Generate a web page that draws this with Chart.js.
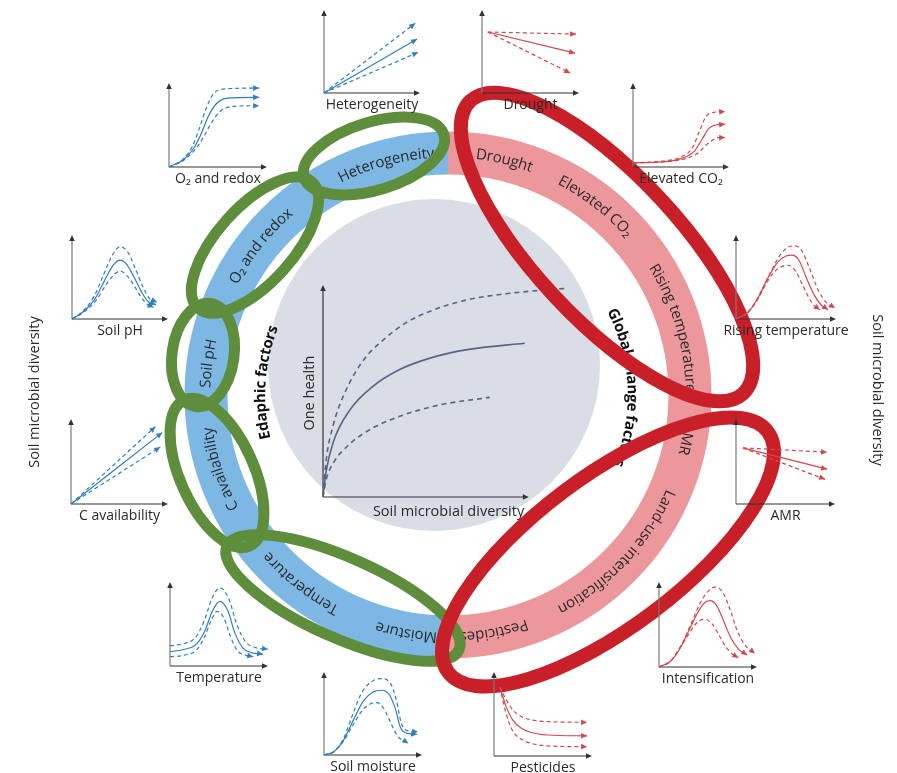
<!DOCTYPE html>
<html>
<head>
<meta charset="utf-8">
<script src="https://cdn.jsdelivr.net/npm/chart.js@4.4.1/dist/chart.umd.min.js"></script>
<style>
  html, body { margin: 0; padding: 0; background: #ffffff; }
  #stage { position: relative; width: 897px; height: 773px; overflow: hidden; }
  #stage canvas { position: absolute; }
  #main { left: 0; top: 0; z-index: 1; }
  .mini { z-index: 2; }
</style>
</head>
<body>
<div id="stage"><canvas id="main" width="897" height="773"></canvas></div>
<script>
// ---------- data ----------
// central panel: one health vs soil microbial diversity
const HEALTH_MID   = [[0,0],[0.15,1.2],[0.5,2.6],[1.3,4.1],[2.4,5.2],[3.7,6.0],[5.2,6.55],[7.0,6.95],[9.8,7.25]];
const HEALTH_UPPER = [[0,0],[0.15,1.7],[0.5,3.4],[1.1,5.0],[2.0,6.5],[2.8,7.3],[4.0,8.2],[5.3,8.8],[7.0,9.3],[9.0,9.6],[11.9,9.85]];
const HEALTH_LOWER = [[0,0],[0.15,0.8],[0.5,1.6],[1.3,2.5],[2.5,3.3],[4.0,3.9],[5.7,4.35],[8.1,4.7]];

// ring categories
const EDAPHIC_FACTORS = ['Heterogeneity', 'O₂ and redox', 'Soil pH', 'C availability', 'Temperature', 'Moisture'];
const GLOBAL_FACTORS  = ['Drought', 'Elevated CO₂', 'Rising temperature', 'AMR', 'Land-use intensification', 'Pesticides'];

// response curves (x, diversity) for each factor: upper, central, lower
const O2_UPPER = [[0,0],[1.5,1.0],[2.4,2.5],[3.1,4.6],[3.8,7.0],[4.6,8.8],[5.8,9.3],[9.2,9.4]];
const O2_MID   = [[0,0],[1.5,0.9],[2.5,2.2],[3.3,4.0],[4.0,6.0],[4.8,7.5],[6.0,8.2],[9.2,8.3]];
const O2_LOWER = [[0,0],[1.5,0.8],[2.6,2.0],[3.5,3.5],[4.3,5.2],[5.2,6.6],[6.4,7.2],[9.2,7.3]];

const HET_UPPER = [[0,0],[9.5,8.4]];
const HET_MID   = [[0,0],[9.7,6.5]];
const HET_LOWER = [[0,0],[9.8,4.9]];

const DROUGHT_UPPER = [[0.6,7.35],[9.7,7.1]];
const DROUGHT_MID   = [[0.6,7.35],[9.6,4.8]];
const DROUGHT_LOWER = [[0.6,7.35],[9.1,2.4]];

const CO2_UPPER = [[0,0.5],[3,0.7],[5,1.2],[6.2,2.3],[6.9,4.2],[7.6,6.0],[8.4,6.5],[9.6,6.6]];
const CO2_MID   = [[0,0.5],[3,0.6],[5,1.0],[6.4,1.9],[7.2,3.3],[7.9,4.6],[8.6,5.0],[9.6,5.1]];
const CO2_LOWER = [[0,0.5],[3,0.6],[5.5,1.0],[6.8,1.7],[7.6,2.6],[8.3,3.2],[8.9,3.5],[9.6,3.5]];

const PH_UPPER = [[0,0],[1.2,1.0],[2.3,2.7],[3.3,5.3],[4.2,7.6],[5.0,8.6],[5.8,8.0],[6.6,6.0],[7.4,3.8],[8.1,2.4],[8.85,2.0]];
const PH_MID   = [[0,0],[1.2,0.9],[2.4,2.4],[3.4,4.6],[4.3,6.4],[5.0,7.0],[5.7,6.5],[6.5,4.9],[7.3,3.1],[8.0,2.0],[8.75,1.7]];
const PH_LOWER = [[0,0],[1.2,0.8],[2.5,2.2],[3.5,4.0],[4.4,5.3],[5.0,5.7],[5.6,5.3],[6.4,4.1],[7.2,2.6],[7.9,1.7],[8.5,1.4]];

const RISE_UPPER = [[0,0],[1.2,0.8],[2.2,2.6],[3.3,5.2],[4.4,7.6],[5.3,8.6],[5.9,8.7],[6.6,8.1],[7.4,5.9],[8.2,3.5],[9.0,2.0],[9.9,1.3]];
const RISE_MID   = [[0,0],[1.2,0.8],[2.2,2.5],[3.2,4.9],[4.2,6.8],[5.0,7.5],[5.6,7.6],[6.3,7.0],[7.0,5.0],[7.8,2.9],[8.5,1.7],[9.2,1.1]];
const RISE_LOWER = [[0,0],[1.2,0.8],[2.2,2.4],[3.1,4.4],[4.0,5.8],[4.7,6.3],[5.2,6.4],[5.9,5.8],[6.6,4.2],[7.3,2.5],[7.9,1.5],[8.4,1.1]];

const CAV_UPPER = [[0,0],[8.7,9.1]];
const CAV_MID   = [[0,0],[9.4,8.4]];
const CAV_LOWER = [[0,0],[9.2,6.7]];

const AMR_UPPER = [[0.7,6.6],[9.2,6.1]];
const AMR_MID   = [[0.7,6.6],[9.2,4.1]];
const AMR_LOWER = [[0.7,6.6],[9.0,2.9]];

const TEMP_UPPER = [[0,2.4],[1.5,2.7],[2.6,3.4],[3.5,5.4],[4.3,8.1],[5.1,9.3],[6.0,8.0],[6.8,5.0],[7.7,2.9],[8.7,2.2],[10,2.0]];
const TEMP_MID   = [[0,1.7],[1.5,2.0],[2.7,2.6],[3.6,4.3],[4.3,6.5],[5.1,7.7],[5.9,6.6],[6.6,4.0],[7.4,2.2],[8.3,1.6],[9.5,1.4]];
const TEMP_LOWER = [[0,1.1],[1.5,1.3],[2.7,1.9],[3.5,3.4],[4.2,5.4],[4.8,6.5],[5.5,5.7],[6.2,3.4],[6.9,1.8],[7.7,1.3],[8.5,1.1]];

const INT_UPPER = [[0,0],[1.2,0.7],[2.2,2.4],[3.2,4.9],[4.2,7.5],[5.0,8.9],[5.7,9.4],[6.5,8.8],[7.3,6.6],[8.0,4.2],[8.9,2.4],[9.8,1.6]];
const INT_MID   = [[0,0],[1.2,0.7],[2.2,2.3],[3.1,4.4],[4.0,6.5],[4.6,7.5],[5.2,7.8],[5.9,7.2],[6.6,5.4],[7.3,3.5],[8.1,2.1],[9.0,1.4]];
const INT_LOWER = [[0,0],[1.2,0.7],[2.1,2.2],[3.0,3.8],[3.7,5.0],[4.2,5.5],[4.7,5.6],[5.4,5.1],[6.1,3.8],[6.8,2.4],[7.5,1.5],[8.1,1.1]];

const MOIST_UPPER = [[0,0],[1.0,0.4],[2.0,2.0],[2.9,4.8],[3.8,7.4],[4.8,8.8],[5.8,9.2],[6.8,8.6],[7.4,6.5],[7.9,3.8],[8.6,2.9],[9.6,2.8]];
const MOIST_MID   = [[0,0],[1.0,0.4],[2.0,1.8],[3.0,4.2],[4.0,6.5],[5.0,7.6],[5.9,7.8],[6.7,7.2],[7.3,5.5],[7.8,3.3],[8.5,2.6],[9.5,2.5]];
const MOIST_LOWER = [[0,0],[1.0,0.4],[2.0,1.7],[3.0,3.7],[4.0,5.5],[4.8,6.2],[5.4,6.3],[6.1,5.6],[6.8,3.9],[7.5,2.3],[8.6,1.4]];

const PEST_UPPER = [[0.6,8.2],[1.2,6.8],[1.9,5.5],[2.8,4.7],[3.8,4.3],[5.5,4.1],[9.5,4.0]];
const PEST_MID   = [[0.6,8.2],[1.2,6.0],[1.9,4.3],[2.8,3.3],[3.8,2.8],[5.5,2.5],[9.5,2.4]];
const PEST_LOWER = [[0.6,8.2],[1.2,5.2],[1.9,3.0],[2.8,2.0],[3.8,1.5],[5.5,1.2],[9.5,1.1]];

// ---------- styling & layout ----------
const FONT = '"Open Sans", "DejaVu Sans", sans-serif';
const BLUE = '#2f7fbf';
const RED = '#d2474f';
const INK = '#2a2a2a';
const HEALTH_INK = '#5a6482';

const RING = { cx: 448, cy: 395, r: 242, width: 43, blue: '#7db7e3', pink: '#eb979c' };
const CORE = { cx: 434, cy: 365, r: 166, fill: '#d9dde6' };
const EDAPHIC_ANGLES = [-105, -141.5, -172.5, 162, 128, 100];
const GLOBAL_ANGLES = [-76.5, -52, -16.5, 10.5, 43, 79];

const GREEN_RINGS = [
  { cx: 374, cy: 156, rx: 73, ry: 34, rot: -17 },
  { cx: 255, cy: 245, rx: 85, ry: 38, rot: -48 },
  { cx: 203, cy: 355, rx: 52, ry: 31, rot: -82 },
  { cx: 217, cy: 473, rx: 80, ry: 37, rot: 66 },
  { cx: 343, cy: 598, rx: 127, ry: 40, rot: 24 }
];
const RED_RINGS = [
  { cx: 607, cy: 247, rx: 200, ry: 72, rot: 47 },
  { cx: 608, cy: 552, rx: 200, ry: 75, rot: -37 }
];

const MINI = [
  { label: 'O₂ and redox', color: BLUE, origin: [169, 167], tip: [267, 83], series: [O2_UPPER, O2_MID, O2_LOWER] },
  { label: 'Heterogeneity', color: BLUE, origin: [324, 93], tip: [420, 10], series: [HET_UPPER, HET_MID, HET_LOWER] },
  { label: 'Drought', color: RED, origin: [482, 93], tip: [579, 10], series: [DROUGHT_UPPER, DROUGHT_MID, DROUGHT_LOWER] },
  { label: 'Elevated CO₂', color: RED, origin: [633, 167], tip: [729, 83], series: [CO2_UPPER, CO2_MID, CO2_LOWER] },
  { label: 'Soil pH', color: BLUE, origin: [72, 319], tip: [168, 235], series: [PH_UPPER, PH_MID, PH_LOWER] },
  { label: 'Rising temperature', color: RED, origin: [736, 319], tip: [836, 235], series: [RISE_UPPER, RISE_MID, RISE_LOWER] },
  { label: 'C availability', color: BLUE, origin: [71, 504], tip: [168, 419], series: [CAV_UPPER, CAV_MID, CAV_LOWER] },
  { label: 'AMR', color: RED, origin: [736, 504], tip: [835, 419], series: [AMR_UPPER, AMR_MID, AMR_LOWER] },
  { label: 'Temperature', color: BLUE, origin: [170, 666], tip: [268, 582], series: [TEMP_UPPER, TEMP_MID, TEMP_LOWER] },
  { label: 'Intensification', color: RED, origin: [659, 667], tip: [757, 582], series: [INT_UPPER, INT_MID, INT_LOWER] },
  { label: 'Soil moisture', color: BLUE, origin: [324, 755], tip: [422, 672], series: [MOIST_UPPER, MOIST_MID, MOIST_LOWER] },
  { label: 'Pesticides', color: RED, origin: [494, 756], tip: [592, 672], series: [PEST_UPPER, PEST_MID, PEST_LOWER] }
];

const toPoints = arr => arr.map(([x, y]) => ({ x, y }));

// ---------- drawing helpers ----------
function arrowHead(ctx, x, y, dx, dy, len, half, color) {
  const d = Math.hypot(dx, dy) || 1;
  const ux = dx / d, uy = dy / d;
  ctx.save();
  ctx.fillStyle = color;
  ctx.beginPath();
  ctx.moveTo(x, y);
  ctx.lineTo(x - ux * len - uy * half, y - uy * len + ux * half);
  ctx.lineTo(x - ux * len + uy * half, y - uy * len - ux * half);
  ctx.closePath();
  ctx.fill();
  ctx.restore();
}

function arcText(ctx, text, cx, cy, r, deg, font, color) {
  ctx.save();
  ctx.font = font;
  ctx.fillStyle = color;
  ctx.textAlign = 'center';
  ctx.textBaseline = 'middle';
  const chars = Array.from(text);
  const widths = chars.map(c => ctx.measureText(c).width);
  const total = widths.reduce((a, b) => a + b, 0);
  let a = deg * Math.PI / 180 - total / (2 * r);
  chars.forEach((c, i) => {
    const mid = a + widths[i] / (2 * r);
    ctx.save();
    ctx.translate(cx + r * Math.cos(mid), cy + r * Math.sin(mid));
    ctx.rotate(mid + Math.PI / 2);
    ctx.fillText(c, 0, 0);
    ctx.restore();
    a += widths[i] / r;
  });
  ctx.restore();
}

function rotatedText(ctx, text, x, y, rad, font, color) {
  ctx.save();
  ctx.translate(x, y);
  ctx.rotate(rad);
  ctx.font = font;
  ctx.fillStyle = color;
  ctx.textAlign = 'center';
  ctx.textBaseline = 'middle';
  ctx.fillText(text, 0, 0);
  ctx.restore();
}

function drawAxes(ctx, left, bottom, right, top, color, yColor) {
  ctx.save();
  ctx.lineWidth = 1.2;
  ctx.strokeStyle = yColor;
  ctx.beginPath();
  ctx.moveTo(left, bottom);
  ctx.lineTo(left, top + 4);
  ctx.stroke();
  ctx.strokeStyle = color;
  ctx.beginPath();
  ctx.moveTo(left, bottom);
  ctx.lineTo(right - 4, bottom);
  ctx.stroke();
  ctx.restore();
  arrowHead(ctx, left, top, 0, -1, 6, 2.8, color);
  arrowHead(ctx, right, bottom, 1, 0, 6, 2.8, color);
}

function lineEndArrows(chart, len, half) {
  const ctx = chart.ctx;
  chart.data.datasets.forEach((ds, i) => {
    const pts = chart.getDatasetMeta(i).data;
    if (pts.length < 2) return;
    const last = pts[pts.length - 1];
    const prev = pts[pts.length - 2];
    let dx = last.x - (last.cp1x ?? prev.x);
    let dy = last.y - (last.cp1y ?? prev.y);
    if (Math.hypot(dx, dy) < 0.5) { dx = last.x - prev.x; dy = last.y - prev.y; }
    arrowHead(ctx, last.x, last.y, dx, dy, len, half, ds.borderColor);
  });
}

// ---------- central chart with ring backdrop ----------
const backdrop = {
  id: 'backdrop',
  beforeDraw(chart) {
    const ctx = chart.ctx;
    ctx.save();
    // core disc
    ctx.fillStyle = CORE.fill;
    ctx.beginPath();
    ctx.arc(CORE.cx, CORE.cy, CORE.r, 0, Math.PI * 2);
    ctx.fill();
    // ring halves
    ctx.lineWidth = RING.width;
    ctx.lineCap = 'butt';
    ctx.strokeStyle = RING.blue;
    ctx.beginPath();
    ctx.arc(RING.cx, RING.cy, RING.r, Math.PI / 2, Math.PI * 1.5);
    ctx.stroke();
    ctx.strokeStyle = RING.pink;
    ctx.beginPath();
    ctx.arc(RING.cx, RING.cy, RING.r, -Math.PI / 2, Math.PI / 2);
    ctx.stroke();
    ctx.restore();

    const ringFont = '15px ' + FONT;
    EDAPHIC_FACTORS.forEach((t, i) => arcText(ctx, t, RING.cx, RING.cy, RING.r, EDAPHIC_ANGLES[i], ringFont, INK));
    GLOBAL_FACTORS.forEach((t, i) => arcText(ctx, t, RING.cx, RING.cy, RING.r, GLOBAL_ANGLES[i], ringFont, INK));

    const boldFont = 'bold 15px ' + FONT;
    arcText(ctx, 'Edaphic factors', RING.cx, RING.cy, 187, -176, boldFont, '#111');
    arcText(ctx, 'Global change factors', RING.cx, RING.cy, 184, -2.5, boldFont, '#111');

    // outer axis captions
    rotatedText(ctx, 'Soil microbial diversity', 35, 392, -Math.PI / 2, '14.5px ' + FONT, INK);
    rotatedText(ctx, 'Soil microbial diversity', 877, 390, Math.PI / 2, '14.5px ' + FONT, INK);

    // central axes
    const xs = chart.scales.x, ys = chart.scales.y;
    const left = xs.getPixelForValue(0), bottom = ys.getPixelForValue(0);
    drawAxes(ctx, left, bottom, xs.getPixelForValue(10), ys.getPixelForValue(10), '#333', '#333');
    rotatedText(ctx, 'One health', left - 13, ys.getPixelForValue(4.9), -Math.PI / 2, '14.5px ' + FONT, INK);
    ctx.save();
    ctx.font = '14.5px ' + FONT;
    ctx.fillStyle = INK;
    ctx.textAlign = 'center';
    ctx.textBaseline = 'middle';
    ctx.fillText('Soil microbial diversity', xs.getPixelForValue(6.1), bottom + 15);
    ctx.restore();
  },
  afterDatasetsDraw(chart) {
    const ctx = chart.ctx;
    ctx.save();
    ctx.strokeStyle = '#5e8d3c';
    ctx.lineWidth = 11;
    GREEN_RINGS.forEach(e => {
      ctx.beginPath();
      ctx.ellipse(e.cx, e.cy, e.rx, e.ry, e.rot * Math.PI / 180, 0, Math.PI * 2);
      ctx.stroke();
    });
    ctx.strokeStyle = '#c81f29';
    ctx.lineWidth = 14;
    RED_RINGS.forEach(e => {
      ctx.beginPath();
      ctx.ellipse(e.cx, e.cy, e.rx, e.ry, e.rot * Math.PI / 180, 0, Math.PI * 2);
      ctx.stroke();
    });
    ctx.restore();
  }
};

function healthSet(arr, dashed) {
  return {
    data: toPoints(arr),
    borderColor: HEALTH_INK,
    borderWidth: 1.6,
    borderDash: dashed ? [5, 4] : [],
    pointRadius: 0,
    fill: false,
    clip: false,
    cubicInterpolationMode: 'monotone'
  };
}

new Chart(document.getElementById('main'), {
  type: 'line',
  data: { datasets: [healthSet(HEALTH_UPPER, true), healthSet(HEALTH_MID, false), healthSet(HEALTH_LOWER, true)] },
  options: {
    responsive: false,
    animation: false,
    devicePixelRatio: 1,
    layout: { padding: { left: 323, top: 285, right: 327, bottom: 276 } },
    scales: {
      x: { type: 'linear', min: 0, max: 12, display: false },
      y: { type: 'linear', min: 0, max: 10, display: false }
    },
    plugins: { legend: { display: false }, tooltip: { enabled: false } }
  },
  plugins: [backdrop]
});

// ---------- small response charts ----------
const miniDecor = {
  id: 'miniDecor',
  beforeDatasetsDraw(chart) {
    const a = chart.chartArea;
    drawAxes(chart.ctx, a.left, a.bottom, a.right, a.top, '#333', '#7a7a7a');
    const ctx = chart.ctx;
    ctx.save();
    ctx.font = '14px ' + FONT;
    ctx.fillStyle = INK;
    ctx.textAlign = 'center';
    ctx.textBaseline = 'middle';
    ctx.fillText(chart.options.plugins.miniDecor.label, (a.left + a.right) / 2, a.bottom + 12);
    ctx.restore();
  },
  afterDatasetsDraw(chart) {
    lineEndArrows(chart, 6, 2.8);
  }
};

const PAD = { left: 30, right: 44, top: 4, bottom: 24 };
const stage = document.getElementById('stage');

MINI.forEach(m => {
  const w = m.tip[0] - m.origin[0];
  const h = m.origin[1] - m.tip[1];
  const cv = document.createElement('canvas');
  cv.className = 'mini';
  cv.width = w + PAD.left + PAD.right;
  cv.height = h + PAD.top + PAD.bottom;
  cv.style.left = (m.origin[0] - PAD.left) + 'px';
  cv.style.top = (m.tip[1] - PAD.top) + 'px';
  stage.appendChild(cv);
  const datasets = m.series.map((s, i) => ({
    data: toPoints(s),
    borderColor: m.color,
    borderWidth: 1.2,
    borderDash: i === 1 ? [] : [4, 3],
    pointRadius: 0,
    fill: false,
    clip: false,
    cubicInterpolationMode: 'monotone'
  }));
  new Chart(cv, {
    type: 'line',
    data: { datasets },
    options: {
      responsive: false,
      animation: false,
      devicePixelRatio: 1,
      layout: { padding: PAD },
      scales: {
        x: { type: 'linear', min: 0, max: 10, display: false },
        y: { type: 'linear', min: 0, max: 10, display: false }
      },
      plugins: { legend: { display: false }, tooltip: { enabled: false }, miniDecor: { label: m.label } }
    },
    plugins: [miniDecor]
  });
});
</script>
</body>
</html>
